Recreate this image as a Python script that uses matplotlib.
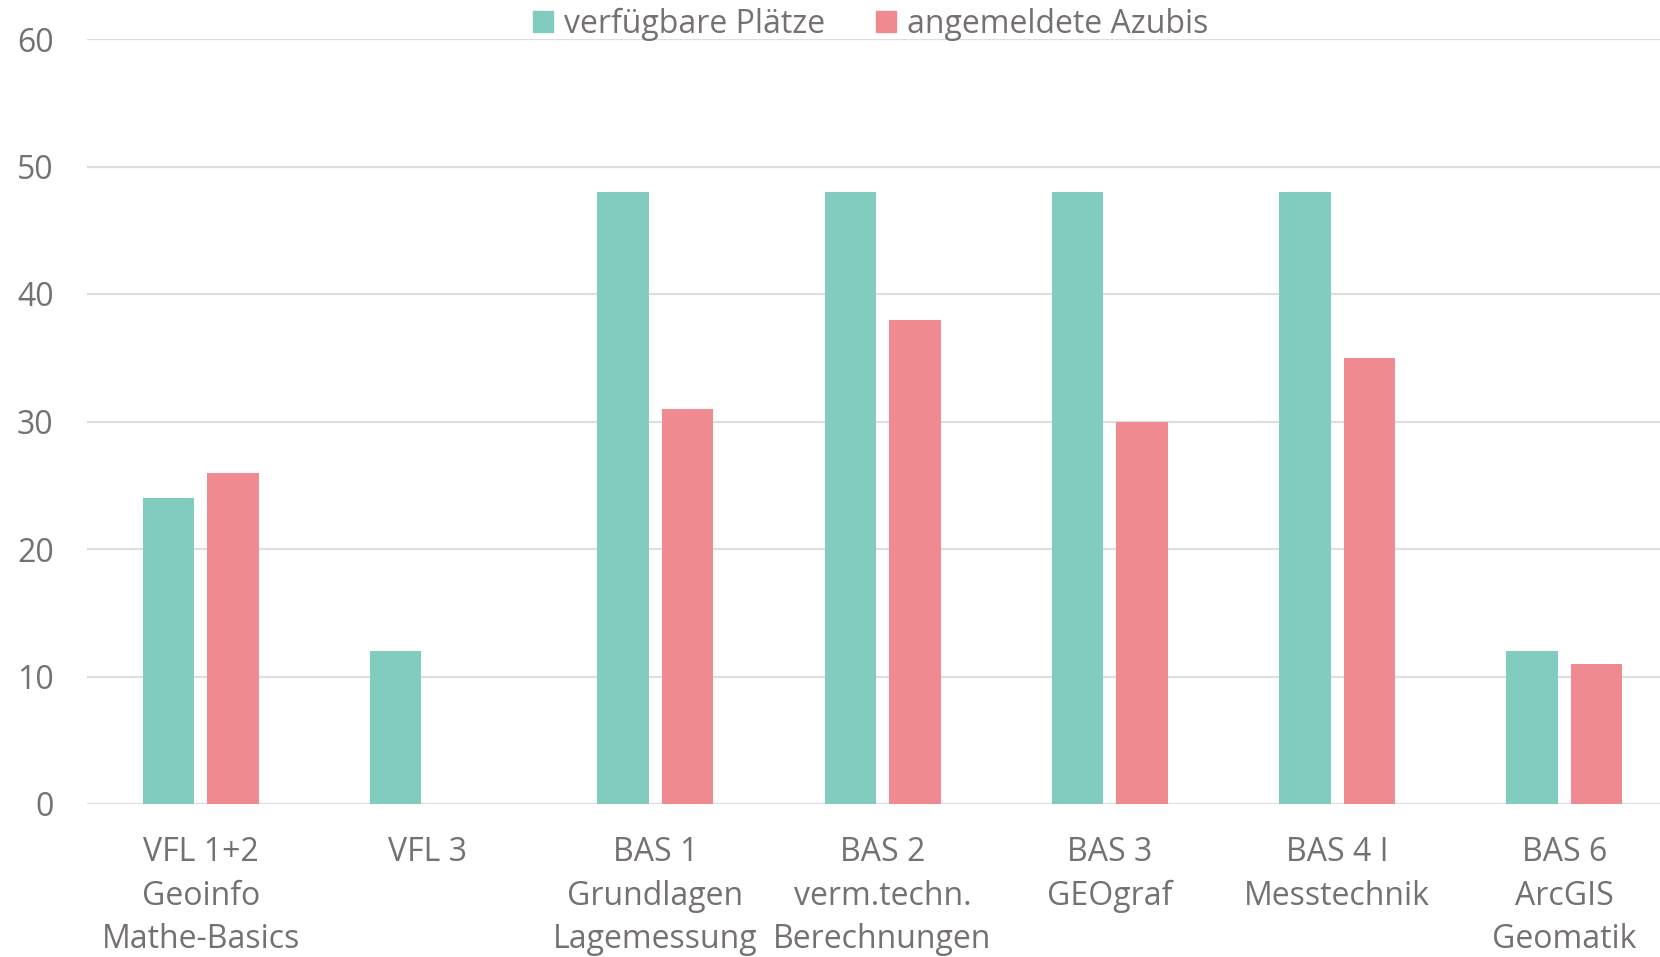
import numpy as np
import matplotlib
matplotlib.use("Agg")
import matplotlib.pyplot as plt
from matplotlib.patches import Patch

plt.rcParams['font.family'] = ['Open Sans', 'DejaVu Sans']

categories = ["VFL 1+2\nGeoinfo\nMathe-Basics", "VFL 3", "BAS 1\nGrundlagen\nLagemessung",
              "BAS 2\nverm.techn.\nBerechnungen", "BAS 3\nGEOgraf", "BAS 4 I\nMesstechnik",
              "BAS 6\nArcGIS\nGeomatik"]
plaetze = [24, 12, 48, 48, 48, 48, 12]
azubis = [26, 0, 31, 38, 30, 35, 11]
series_names = ["verfügbare Plätze", "angemeldete Azubis"]

teal = "#82CBBF"
pink = "#F08A91"
txt = "#767171"
gridc = "#DEDEDE"

fig = plt.figure(figsize=(16.6, 9.57), dpi=100)
ax = fig.add_axes([87/1660, 1-804/957, 1-87/1660, (804-39)/957])

x = np.arange(len(categories))
w = 0.226
off = 0.142
ax.bar(x - off, plaetze, w, color=teal, zorder=3)
ax.bar(x + off, azubis, w, color=pink, zorder=3)

# last group is cut a bit by the right edge, like the original
ax.set_xlim(-0.5, -0.5 + 1573/227.3)
ax.set_ylim(0, 60)
ax.set_yticks(range(0, 61, 10))
ax.yaxis.grid(True, color=gridc, linewidth=1.6, zorder=0)
ax.set_axisbelow(True)
for s in ax.spines.values():
    s.set_visible(False)
ax.axhline(0, color=gridc, linewidth=2, zorder=1)

ax.set_xticks(x)
ax.set_xticklabels(categories, fontsize=23, color=txt, linespacing=1.43)
ax.tick_params(axis='x', length=0, pad=23)
ax.tick_params(axis='y', length=0, pad=24, labelsize=23, labelcolor=txt)

handles = [Patch(color=teal), Patch(color=pink)]
fig.legend(handles, series_names, loc='center', bbox_to_anchor=(871/1660, 1-24/957),
           ncol=2, frameon=False, fontsize=23, labelcolor=txt,
           handlelength=0.62, handleheight=0.62, handletextpad=0.35, columnspacing=1.6)

fig.savefig("out.png", dpi=100)
